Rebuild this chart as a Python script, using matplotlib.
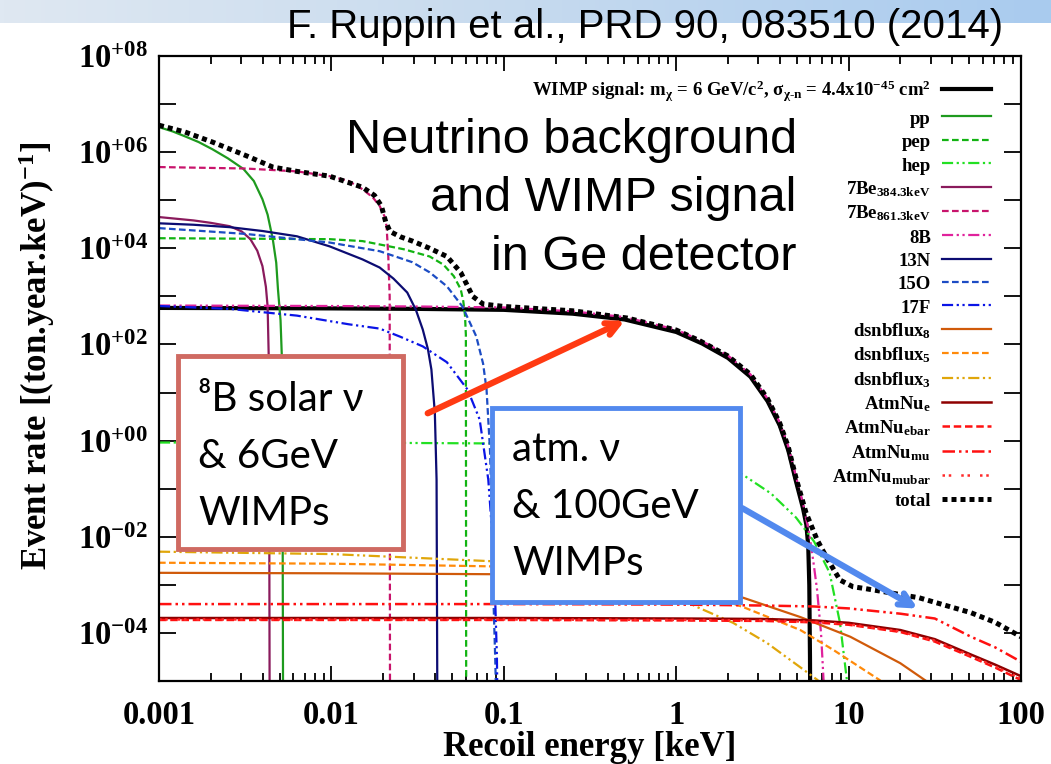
import numpy as np
import matplotlib.pyplot as plt
from matplotlib.colors import LinearSegmentedColormap
from matplotlib.patches import Rectangle
from matplotlib.ticker import FixedLocator, FuncFormatter, LogLocator, NullLocator

plt.rcParams['font.family'] = 'Liberation Serif'
plt.rcParams['font.weight'] = 'bold'
plt.rcParams['mathtext.fontset'] = 'custom'
plt.rcParams['mathtext.rm'] = 'Liberation Serif:bold'
plt.rcParams['mathtext.it'] = 'Liberation Serif:bold'
plt.rcParams['mathtext.bf'] = 'Liberation Serif:bold'
plt.rcParams['mathtext.default'] = 'regular'

# curves: log10(E/keV) and log10(rate)
wimp_logE = [-3, -2, -1.5, -1, -0.6, -0.3, 0, 0.15, 0.3, 0.43, 0.53, 0.6, 0.65, 0.695, 0.735, 0.755, 0.766, 0.772, 0.776, 0.778]
wimp_logR = [2.76, 2.75, 2.74, 2.72, 2.64, 2.52, 2.26, 2.02, 1.72, 1.33, 0.82, 0.32, -0.2, -0.85, -1.4, -1.75, -2.2, -3.0, -4.5, -6]

pp_logE = [-3, -2.92, -2.85, -2.77, -2.69, -2.6, -2.51, -2.45, -2.40, -2.37, -2.34, -2.32, -2.31, -2.295, -2.285, -2.28]
pp_logR = [6.52, 6.43, 6.33, 6.21, 6.06, 5.87, 5.65, 5.4, 5.02, 4.7, 4.19, 3.7, 3.15, 2.5, 1.5, -6]

pep_logE = [-3, -2.5, -2.01, -1.82, -1.72, -1.58, -1.43, -1.35, -1.29, -1.25, -1.235, -1.225, -1.22, -1.218]
pep_logR = [4.21, 4.20, 4.19, 4.15, 4.08, 3.98, 3.83, 3.66, 3.42, 3.15, 2.9, 2.6, 2.2, -6]

hep_logE = [-3, -2, -1, -0.5, 0, 0.2, 0.37, 0.55, 0.695, 0.8, 0.89, 0.95, 0.99, 1.0]
hep_logR = [-0.04, -0.04, -0.06, -0.1, -0.22, -0.4, -0.67, -1.1, -1.6, -2.1, -2.75, -3.79, -4.98, -6]

be384_logE = [-3, -2.8, -2.7, -2.59, -2.52, -2.47, -2.43, -2.40, -2.38, -2.37, -2.362, -2.358]
be384_logR = [4.65, 4.58, 4.53, 4.46, 4.35, 4.19, 3.95, 3.63, 3.2, 2.79, 1.5, -6]

be861_logE = [-3, -2.5, -2.2, -2.01, -1.9, -1.82, -1.76, -1.72, -1.69, -1.68, -1.67, -1.662, -1.66]
be861_logR = [5.69, 5.66, 5.60, 5.5, 5.4, 5.23, 5.06, 4.88, 4.65, 4.46, 3.83, 3.0, -6]

b8_logE = [-3, -2, -1.5, -1, -0.6, -0.3, 0, 0.15, 0.3, 0.43, 0.53, 0.6, 0.65, 0.695, 0.735, 0.77, 0.795, 0.817, 0.84, 0.855, 0.86]
b8_logR = [2.81, 2.80, 2.79, 2.77, 2.69, 2.57, 2.31, 2.07, 1.77, 1.38, 0.87, 0.38, -0.12, -0.75, -1.3, -1.9, -2.5, -3.1, -4.0, -5.0, -6]

n13_logE = [-3, -2.8, -2.59, -2.4, -2.2, -2.01, -1.82, -1.72, -1.64, -1.56, -1.51, -1.47, -1.44, -1.42, -1.40, -1.39, -1.385]
n13_logR = [4.52, 4.49, 4.44, 4.36, 4.25, 4.04, 3.77, 3.6, 3.37, 3.08, 2.72, 2.31, 1.9, 1.48, 0.58, -0.81, -6]

o15_logE = [-3, -2.5, -2.01, -1.72, -1.53, -1.43, -1.33, -1.24, -1.16, -1.12, -1.10, -1.08, -1.07, -1.06, -1.05, -1.04]
o15_logR = [4.42, 4.3, 4.12, 3.94, 3.71, 3.5, 3.21, 2.79, 2.17, 1.6, 1.06, -0.2, -1.5, -3.3, -4.5, -6]

f17_logE = [-3, -2.59, -2.2, -1.9, -1.72, -1.6, -1.47, -1.33, -1.21, -1.14, -1.09, -1.07, -1.05, -1.04, -1.035]
f17_logR = [2.80, 2.74, 2.6, 2.42, 2.33, 2.16, 1.96, 1.63, 1.06, 0.44, -0.81, -1.8, -3.3, -4.5, -6]

dsnb8_logE = [-3, -2, -1, -0.5, 0, 0.39, 0.72, 1.01, 1.30, 1.45, 1.5]
dsnb8_logR = [-2.75, -2.76, -2.78, -2.86, -3.02, -3.27, -3.67, -4.08, -4.63, -5.0, -5.2]

dsnb5_logE = [-3, -2, -1, -0.5, 0, 0.387, 0.72, 0.91, 1.18, 1.25]
dsnb5_logR = [-2.54, -2.56, -2.62, -2.75, -3.0, -3.46, -3.94, -4.35, -4.98, -5.2]

dsnb3_logE = [-3, -2, -1, -0.5, 0, 0.12, 0.33, 0.527, 0.718, 0.82, 0.86]
dsnb3_logR = [-2.31, -2.36, -2.52, -2.8, -3.25, -3.46, -3.79, -4.21, -4.71, -4.98, -5.2]

atm_logE = [-3, -1, 0, 0.5, 0.8, 1.0, 1.3, 1.5, 1.71, 1.85, 2.0]
atm_e_logR = [-3.69, -3.69, -3.70, -3.71, -3.74, -3.79, -3.94, -4.13, -4.45, -4.66, -4.9]
atm_ebar_logR = [-3.73, -3.73, -3.74, -3.75, -3.78, -3.83, -3.98, -4.18, -4.5, -4.72, -4.98]
atm_mu_logR = [-3.40, -3.40, -3.41, -3.43, -3.45, -3.49, -3.6, -3.7, -4.08, -4.3, -4.6]
atm_mubar_logR = [-3.72, -3.72, -3.73, -3.74, -3.77, -3.82, -3.97, -4.16, -4.48, -4.7, -4.95]

total_logE = [-3, -2.85, -2.69, -2.49, -2.34, -2.2, -2.01, -1.82, -1.75, -1.71, -1.685, -1.66, -1.6, -1.53,
              -1.43, -1.33, -1.25, -1.18, -1.12, -1.0, -0.6, -0.285, 0, 0.14, 0.3, 0.43, 0.53, 0.6, 0.65,
              0.695, 0.753, 0.817, 0.875, 0.95, 1.026, 1.1, 1.2, 1.41, 1.71, 1.85, 2.0]
total_logR = [6.56, 6.42, 6.21, 5.92, 5.69, 5.6, 5.5, 5.27, 5.1, 4.88, 4.55, 4.35, 4.24, 4.15,
              4.0, 3.83, 3.5, 3.0, 2.84, 2.79, 2.7, 2.55, 2.3, 2.07, 1.76, 1.38, 0.87, 0.37, -0.13,
              -0.78, -1.5, -2.06, -2.45, -2.9, -3.04, -3.08, -3.14, -3.27, -3.58, -3.78, -4.08]

x_ticks = [1e-3, 1e-2, 1e-1, 1, 10, 100]
y_exponents = list(range(-5, 9))

wimp_label = r'WIMP signal: m$_{\chi}$ = 6 GeV/c$^{2}$, $\sigma_{\chi\text{-n}}$ = 4.4x10$^{-45}$ cm$^{2}$'

dd = (0, (5, 1.6, 1, 1.6, 1, 1.6))   # gnuplot dash-dot-dot
curves = [
    (wimp_logE, wimp_logR, wimp_label, 'black', '-', 3.0),
    (pp_logE, pp_logR, 'pp', '#1e9a1e', '-', 1.6),
    (pep_logE, pep_logR, 'pep', '#12b312', (0, (3, 1.5)), 1.6),
    (hep_logE, hep_logR, 'hep', '#22e022', dd, 1.6),
    (be384_logE, be384_logR, r'7Be$_{384.3keV}$', '#8a1a5c', '-', 1.6),
    (be861_logE, be861_logR, r'7Be$_{861.3keV}$', '#c8146c', (0, (3, 1.5)), 1.6),
    (b8_logE, b8_logR, '8B', '#e0229c', dd, 1.6),
    (n13_logE, n13_logR, '13N', '#0c0c72', '-', 1.6),
    (o15_logE, o15_logR, '15O', '#1c4cc4', (0, (3, 1.5)), 1.6),
    (f17_logE, f17_logR, '17F', '#0a14e6', dd, 1.6),
    (dsnb8_logE, dsnb8_logR, r'dsnbflux$_{8}$', '#d05a0a', '-', 1.6),
    (dsnb5_logE, dsnb5_logR, r'dsnbflux$_{5}$', '#ff8a0a', (0, (3, 1.5)), 1.6),
    (dsnb3_logE, dsnb3_logR, r'dsnbflux$_{3}$', '#e0a60a', dd, 1.6),
    (atm_logE, atm_e_logR, r'AtmNu$_{e}$', '#8e0000', '-', 1.8),
    (atm_logE, atm_ebar_logR, r'AtmNu$_{ebar}$', '#ff1010', (0, (3, 1.5)), 1.8),
    (atm_logE, atm_mu_logR, r'AtmNu$_{mu}$', '#ff1010', dd, 1.8),
    (atm_logE, atm_mubar_logR, r'AtmNu$_{mubar}$', '#ff2a2a', (0, (1, 1.5, 1, 4)), 1.8),
    (total_logE, total_logR, 'total', 'black', (0, (1, 0.8)), 3.6),
]

fig = plt.figure(figsize=(10.51, 7.64), dpi=100)

# light blue slide band at the top
band = fig.add_axes([0, 1 - 23 / 764, 1, 23 / 764], zorder=0)
band.imshow(np.linspace(0, 1, 256).reshape(1, -1), aspect='auto',
            cmap=LinearSegmentedColormap.from_list('band', ['#dfe8f2', '#c6daee', '#a9cbee']))
band.axis('off')

ax = fig.add_axes([159 / 1051, 1 - 681 / 764, 862 / 1051, 625 / 764], zorder=2)
for lx, ly, lab, col, ls, lw in curves:
    ax.plot(10 ** np.array(lx), 10 ** np.array(ly), color=col, linestyle=ls, linewidth=lw, label=lab)

ax.set_xscale('log')
ax.set_yscale('log')
ax.set_xlim(1e-3, 100)
ax.set_ylim(1e-5, 1e8)

ax.xaxis.set_major_locator(FixedLocator(x_ticks))
ax.xaxis.set_minor_locator(LogLocator(base=10, subs=np.arange(2, 10), numticks=20))
ax.xaxis.set_major_formatter(FuncFormatter(lambda v, p: f'{v:g}'))
ax.yaxis.set_major_locator(FixedLocator([10.0 ** e for e in y_exponents]))
ax.yaxis.set_minor_locator(NullLocator())


def ylab(v, pos):
    e = int(round(np.log10(v)))
    return f'10$^{{{e:+03d}}}$' if e % 2 == 0 else ''


ax.yaxis.set_major_formatter(FuncFormatter(ylab))
ax.tick_params(which='both', direction='in', top=True, right=True, width=1.3, labelsize=23.5)
ax.tick_params(axis='x', which='major', length=11, pad=14)
ax.tick_params(axis='x', which='minor', length=5.5)
ax.tick_params(axis='y', which='major', length=12, pad=8)
for s in ax.spines.values():
    s.set_linewidth(1.6)

ax.set_xlabel('Recoil energy [keV]', fontsize=25, fontweight='bold')
ax.set_ylabel('Event rate [(ton.year.keV)$^{-1}$]', fontsize=25, fontweight='bold')
ax.xaxis.set_label_coords(0.5, -0.08)
ax.yaxis.set_label_coords(-0.118, 0.52)

ax.legend(loc='upper right', bbox_to_anchor=(0.965, 0.963), frameon=False, markerfirst=False,
          fontsize=13.5, handlelength=2.6, handleheight=1.0, labelspacing=0.245, handletextpad=0.6,
          borderpad=0, borderaxespad=0)

# slide annotations
fig.text(0.614, 0.965, 'F. Ruppin et al., PRD 90, 083510 (2014)', family='Liberation Sans',
         weight='normal', fontsize=29, ha='center', va='center', zorder=5)
fig.text(0.758, 1 - 118 / 764, 'Neutrino background\nand WIMP signal\nin Ge detector', family='Liberation Sans',
         weight='normal', fontsize=35, ha='right', va='top', multialignment='right', linespacing=1.38,
         zorder=5)

boxfont = ['Lato', 'DejaVu Sans']
fig.add_artist(Rectangle((178 / 1051, 1 - 549 / 764), 225 / 1051, 193 / 764, transform=fig.transFigure,
                         facecolor='white', edgecolor='#cf6a62', linewidth=3.5, zorder=6))
fig.text(198 / 1051, 1 - 381 / 764, '⁸B solar ν\n& 6GeV\nWIMPs', family=boxfont, weight='normal',
         fontsize=29, ha='left', va='top', linespacing=1.67, zorder=7)
fig.add_artist(Rectangle((492 / 1051, 1 - 602 / 764), 248 / 1051, 194 / 764, transform=fig.transFigure,
                         facecolor='white', edgecolor='#5289ee', linewidth=3.5, zorder=6))
fig.text(512 / 1051, 1 - 431 / 764, 'atm. ν\n& 100GeV\nWIMPs', family=boxfont, weight='normal',
         fontsize=29, ha='left', va='top', linespacing=1.67, zorder=7)

ax.annotate('', xy=(0.52, 330), xytext=(0.035, 3.5),
            arrowprops=dict(arrowstyle='->,head_length=0.9,head_width=0.45', color='#ff3a12', lw=4.5))
ax.annotate('', xy=(26, 3e-4), xytext=(2.34, 0.042),
            arrowprops=dict(arrowstyle='->,head_length=0.9,head_width=0.45', color='#5289ee', lw=4.5))

fig.savefig('out.png', dpi=100)
